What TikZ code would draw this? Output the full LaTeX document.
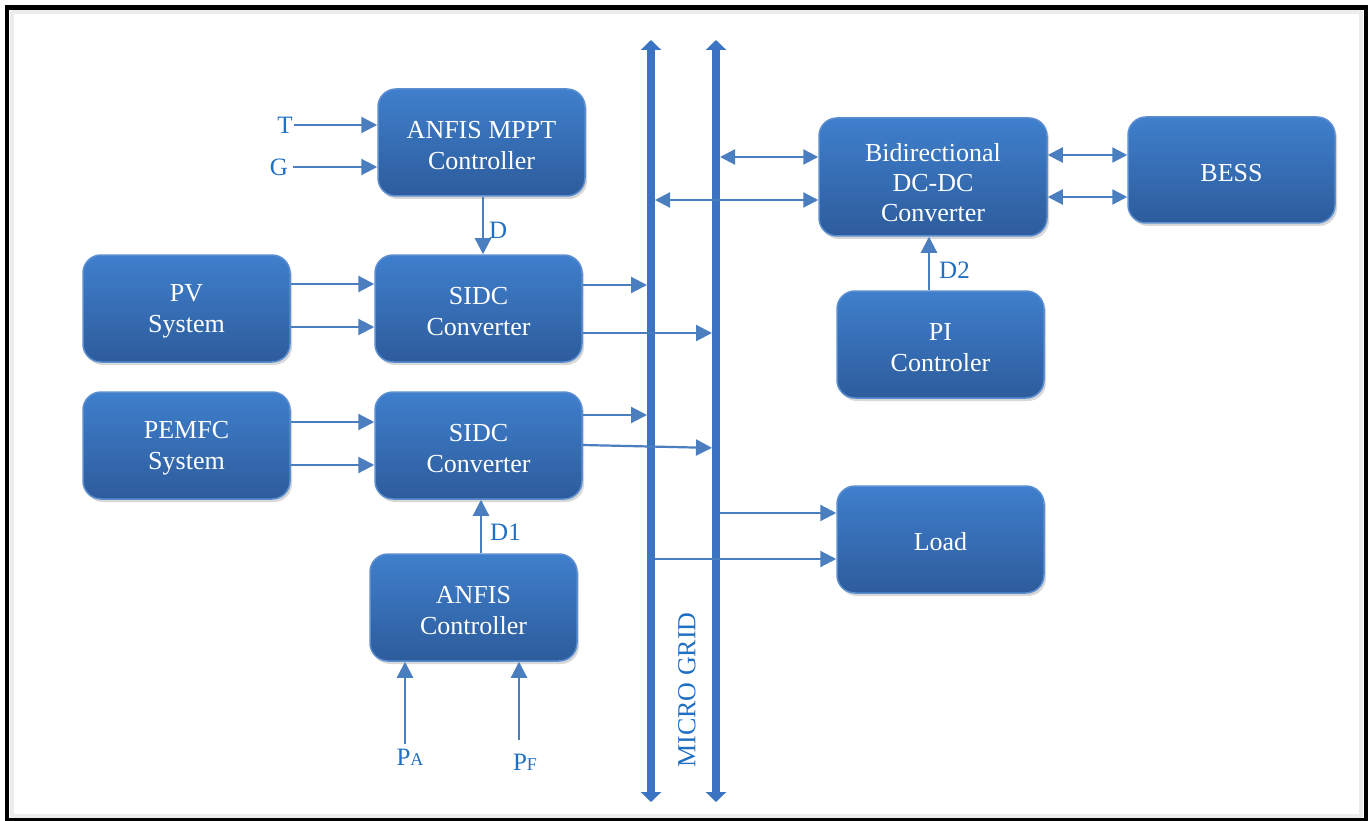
\documentclass[tikz,border=0pt]{standalone}
\usepackage{fontspec}
\setmainfont{Liberation Serif}
\usetikzlibrary{arrows.meta,shadows}
\definecolor{boxtop}{HTML}{3F7FCC}
\definecolor{boxbot}{HTML}{2D5C9C}
\definecolor{boxedge}{HTML}{5A8ED0}
\definecolor{arr}{HTML}{4A7EBE}
\definecolor{lbl}{HTML}{1F6FC2}
\definecolor{busc}{HTML}{3A74C2}
\newcommand\pushdown[1]{\rule{0pt}{#1}}
\begin{document}
\begin{tikzpicture}[x=1pt,y=-1pt,
  blk/.style={draw=boxedge, line width=1.5pt, rounded corners=18pt,
    top color=boxtop, bottom color=boxbot, text=white, align=center,
    font=\fontsize{26}{31.5}\selectfont, minimum width=207pt, minimum height=107pt,
    inner sep=0pt, drop shadow={shadow xshift=2pt,shadow yshift=-3pt,opacity=0.3}},
  lab/.style={text=lbl, font=\fontsize{25}{30}\selectfont, inner sep=1pt},
  sig/.style={draw=arr, line width=2.2pt, -{Triangle[length=16pt,width=16pt]}},
  bisig/.style={draw=arr, line width=2.2pt, {Triangle[length=15pt,width=15pt]}-{Triangle[length=15pt,width=15pt]}},
  bus/.style={draw=busc, line width=8pt, {Triangle[length=10pt,width=20pt]}-{Triangle[length=10pt,width=20pt]}}
]
\useasboundingbox (0,0) rectangle (1368,821);
\fill[white] (0,0) rectangle (1368,821);
% frame
\draw[gray!15, line width=4pt] (12,12) rectangle (1361,816);
\draw[black, line width=4.5pt] (7,7.5) rectangle (1366,820);

% buses
\coordinate (b1t) at (651,40);
\coordinate (b1b) at (651,802);
\coordinate (b2t) at (716,40);
\coordinate (b2b) at (716,802);
\draw[bus] (b1b) -- (b1t);
\draw[bus] (b2b) -- (b2t);
\node[lab, rotate=90, font=\fontsize{26}{30}\selectfont] (mg) at (687,690) {MICRO GRID};

% blocks
\node[blk] (mppt)  at (481.5,142.5) {\pushdown{23pt}ANFIS MPPT\\Controller};
\node[blk] (pv)    at (186.5,308.5) {\pushdown{23pt}PV\\System};
\node[blk] (sidc1) at (478.5,308.5) {\pushdown{23pt}SIDC\\Converter};
\node[blk] (pemfc) at (186.5,445.5) {\pushdown{23pt}PEMFC\\System};
\node[blk] (sidc2) at (478.5,445.5) {\pushdown{23pt}SIDC\\Converter};
\node[blk] (anfis) at (473.5,607.5) {\pushdown{23pt}ANFIS\\Controller};
\node[blk, minimum width=228pt, minimum height=118pt, font=\fontsize{26}{30}\selectfont] (bidir) at (933,177) {\pushdown{30pt}Bidirectional\\DC-DC\\Converter};
\node[blk, minimum height=106pt] (bess)  at (1231.5,170) {\pushdown{23pt}BESS};
\node[blk] (pi)    at (940.5,344.5) {\pushdown{23pt}PI\\Controler};
\node[blk] (load)  at (940.5,539.5) {\pushdown{23pt}Load};

% labels
\node[lab] (T) at (285,125) {T};
\node[lab] (G) at (279,167) {G};
\node[lab, anchor=west] (D) at (488,230) {D};
\node[lab, anchor=west] (D1) at (489,532) {D1};
\node[lab, anchor=west] (D2) at (938,270) {D2};
\node[lab] (PA) at (410,757) {P{\fontsize{18}{20}\selectfont A}};
\node[lab] (PF) at (525,762) {P{\fontsize{18}{20}\selectfont F}};

% MPPT inputs / output
\draw[sig] (T) -- (T -| mppt.west);
\draw[sig, shorten <=4pt] (G) -- (G -| mppt.west);
\draw[sig] (mppt.south -| 483,0) -- (sidc1.north -| 483,0);

% PV / PEMFC to SIDC
\draw[sig] (pv.east |- 0,284) -- (sidc1.west |- 0,284);
\draw[sig] (pv.east |- 0,327) -- (sidc1.west |- 0,327);
\draw[sig] (pemfc.east |- 0,422) -- (sidc2.west |- 0,422);
\draw[sig] (pemfc.east |- 0,465) -- (sidc2.west |- 0,465);

% SIDC to buses
\draw[sig, shorten >=4pt] (sidc1.east |- 0,285) -- (b1t |- 0,285);
\draw[sig, shorten >=4pt] (sidc1.east |- 0,333) -- (b2t |- 0,333);
\draw[sig, shorten >=4pt] (sidc2.east |- 0,415) -- (b1t |- 0,415);
\draw[sig, shorten >=4pt] (sidc2.east |- 0,445) -- (b2t |- 0,448);

% ANFIS controller
\draw[sig] (anfis.north -| 481,0) -- (sidc2.south -| 481,0);
\draw[sig] (PA.north -| 405,0) ++(0,-4) -- (anfis.south -| 405,0);
\draw[sig] (519,740) -- (anfis.south -| 519,0);

% bidirectional converter
\draw[bisig, shorten <=4pt] (b2t |- 0,157) -- (bidir.west |- 0,157);
\draw[bisig, shorten <=4pt] (b1t |- 0,200) -- (bidir.west |- 0,200);
\draw[bisig] (bidir.east |- 0,155) -- (bess.west |- 0,155);
\draw[bisig] (bidir.east |- 0,197) -- (bess.west |- 0,197);
\draw[sig] (pi.north -| 929,0) -- (bidir.south -| 929,0);

% load
\draw[sig, shorten <=4pt] (b2t |- 0,513) -- (load.west |- 0,513);
\draw[sig, shorten <=4pt] (b1t |- 0,559) -- (load.west |- 0,559);
\end{tikzpicture}
\end{document}
